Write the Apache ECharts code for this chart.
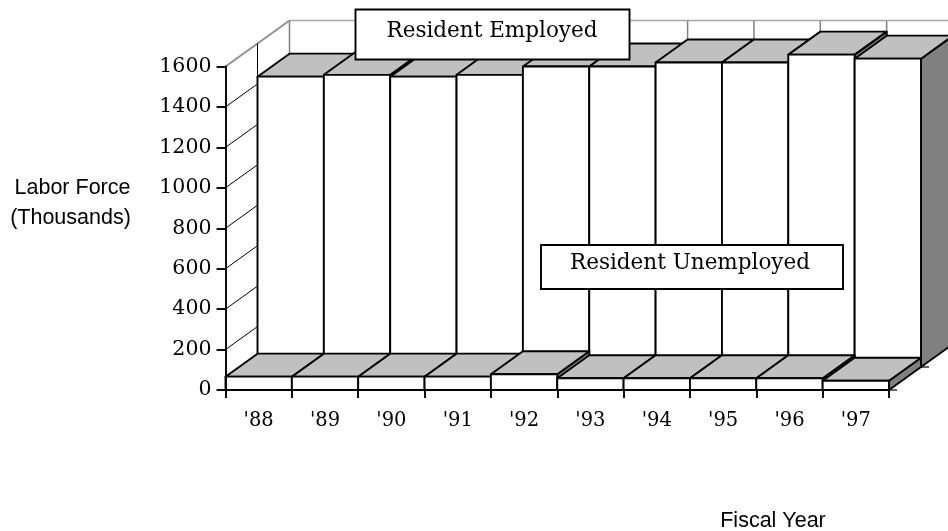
<!DOCTYPE html>
<html>
<head>
<meta charset="utf-8">
<style>html,body{margin:0;padding:0;background:#fff}#chart{width:948px;height:531px}</style>
<script src="https://cdn.jsdelivr.net/npm/echarts@6/dist/echarts.min.js"></script>
</head>
<body>
<div id="chart"></div>
<script>
const categories = ["'88", "'89", "'90", "'91", "'92", "'93", "'94", "'95", "'96", "'97"]
const employed = [1436, 1445, 1436, 1445, 1486, 1486, 1506, 1506, 1545, 1525]
const unemployed = [66, 66, 66, 66, 78, 58, 58, 58, 58, 46]
const yTicks = [200, 400, 600, 800, 1000, 1200, 1400, 1600]
const yMax = 1600

//depth of one series row on screen
const depthX = 32
const depthY = -23

const serif = "DejaVu Serif"
const sans = "Liberation Sans"

//3d bar, row 0 is the front row, row 1 the one behind
function barItem(row) {
  return (params, api) => {
    const idx = api.value(0)
    const band = api.size([1, 0])[0]
    const top = api.coord([idx, api.value(1)])
    const base = api.coord([idx, 0])
    const ox = depthX * row
    const oy = depthY * row
    const l = top[0] - band / 2 + ox
    const r = top[0] + band / 2 + ox
    const t = top[1] + oy
    const b = base[1] + oy
    const edge = { stroke: "#000", lineWidth: 1.9, lineJoin: "round" }
    const poly = (points, fill) => ({
      type: "polygon",
      shape: { points },
      style: { fill, ...edge }
    })
    return {
      type: "group",
      children: [
        poly([[r, t], [r + depthX, t + depthY], [r + depthX, b + depthY], [r, b]], "#808080"),
        poly([[l, t], [l + depthX, t + depthY], [r + depthX, t + depthY], [r, t]], "#c0c0c0"),
        poly([[l, t], [r, t], [r, b], [l, b]], "#fff")
      ]
    }
  }
}

//left wall, one slanted line per y tick
function sideWallItem(params, api) {
  const val = api.value(1)
  const band = api.size([1, 0])[0]
  const p = api.coord([0, val])
  const x = p[0] - band / 2
  const isTop = val === yMax
  const line = (x1, y1, x2, y2, stroke, lineWidth) => ({
    type: "line",
    shape: { x1, y1, x2, y2 },
    style: { stroke, lineWidth }
  })
  if (isTop) {
    const base = api.coord([0, 0])
    return {
      type: "group",
      children: [
        line(x, p[1], x + depthX * 2, p[1] + depthY * 2, "#8c8c8c", 1.7),
        line(x + depthX, p[1] + depthY, x + depthX, base[1] + depthY, "#000", 1)
      ]
    }
  }
  return line(x, p[1], x + depthX, p[1] + depthY, "#000", 1)
}

//back wall, vertical lines between the categories and the top edge
function backWallItem(params, api) {
  const idx = api.value(0)
  const band = api.size([1, 0])[0]
  const top = api.coord([idx, yMax])
  const base = api.coord([idx, 0])
  const x = top[0] - band / 2 + depthX * 2
  const y = top[1] + depthY * 2
  return {
    type: "group",
    children: [
      {
        type: "line",
        shape: { x1: x, y1: y, x2: x, y2: base[1] + depthY * 2 },
        style: { stroke: "#808080", lineWidth: 1.5 }
      },
      {
        type: "line",
        shape: { x1: x, y1: y, x2: x + band, y2: y },
        style: { stroke: "#a6a6a6", lineWidth: 1.7 }
      }
    ]
  }
}

//small ticks on the right hand floor corners
function cornerItem(params, api) {
  const row = api.value(1)
  const band = api.size([1, 0])[0]
  const p = api.coord([categories.length - 1, 0])
  const x = p[0] + band / 2 + depthX * row
  const y = p[1] + depthY * row
  return {
    type: "line",
    shape: { x1: x, y1: y, x2: x + 8, y2: y },
    style: { stroke: "#000", lineWidth: 1.2 }
  }
}

const option = {
  animation: false,
  backgroundColor: "#fff",
  grid: {
    left: 225.5,
    right: 59,
    top: 66.5,
    bottom: 141
  },
  xAxis: {
    type: "category",
    data: categories,
    axisLine: { lineStyle: { color: "#000", width: 1.9 } },
    axisTick: { show: true, length: 8, lineStyle: { color: "#000", width: 1.9 } },
    axisLabel: {
      interval: 0,
      margin: 21,
      fontFamily: serif,
      fontSize: 19.5,
      color: "#000"
    },
    z: 5
  },
  yAxis: {
    type: "value",
    min: 0,
    max: yMax,
    interval: 200,
    splitLine: { show: false },
    axisLine: { show: true, lineStyle: { color: "#000", width: 1.9 } },
    axisTick: { show: true, length: 9, lineStyle: { color: "#000", width: 1.9 } },
    axisLabel: {
      margin: 14,
      fontFamily: serif,
      fontSize: 20.5,
      color: "#000",
      formatter: v => String(v)
    },
    z: 5
  },
  series: [
    {
      name: "back wall",
      type: "custom",
      renderItem: backWallItem,
      clip: false,
      silent: true,
      encode: { x: 0 },
      data: categories.map((c, i) => [i]),
      z: 1
    },
    {
      name: "side wall",
      type: "custom",
      renderItem: sideWallItem,
      clip: false,
      silent: true,
      encode: { y: 1 },
      data: yTicks.map(v => [0, v]),
      z: 1
    },
    {
      name: "corner ticks",
      type: "custom",
      renderItem: cornerItem,
      clip: false,
      silent: true,
      data: [[0, 0], [0, 1]],
      z: 1
    },
    {
      name: "Resident Employed",
      type: "custom",
      renderItem: barItem(1),
      clip: false,
      encode: { x: 0, y: 1 },
      data: employed.map((v, i) => [i, v]),
      z: 2
    },
    {
      name: "Resident Unemployed",
      type: "custom",
      renderItem: barItem(0),
      clip: false,
      encode: { x: 0, y: 1 },
      data: unemployed.map((v, i) => [i, v]),
      z: 3
    }
  ],
  graphic: {
    elements: [
      {
        type: "rect",
        z: 100,
        shape: { x: 355.5, y: 9.5, width: 274, height: 50 },
        style: { fill: "#fff", stroke: "#000", lineWidth: 1.9 }
      },
      {
        type: "text",
        z: 101,
        x: 492,
        y: 31,
        style: {
          text: "Resident Employed",
          fontFamily: serif,
          fontSize: 21.5,
          fill: "#000",
          textAlign: "center",
          textVerticalAlign: "middle"
        }
      },
      {
        type: "rect",
        z: 100,
        shape: { x: 541, y: 245, width: 302, height: 44 },
        style: { fill: "#fff", stroke: "#000", lineWidth: 1.9 }
      },
      {
        type: "text",
        z: 101,
        x: 690,
        y: 263,
        style: {
          text: "Resident Unemployed",
          fontFamily: serif,
          fontSize: 21.5,
          fill: "#000",
          textAlign: "center",
          textVerticalAlign: "middle"
        }
      },
      {
        type: "text",
        z: 101,
        x: 72.5,
        y: 188,
        style: {
          text: "Labor Force",
          fontFamily: sans,
          fontSize: 21.5,
          fill: "#000",
          textAlign: "center",
          textVerticalAlign: "middle"
        }
      },
      {
        type: "text",
        z: 101,
        x: 70.5,
        y: 218,
        style: {
          text: "(Thousands)",
          fontFamily: sans,
          fontSize: 21.5,
          fill: "#000",
          textAlign: "center",
          textVerticalAlign: "middle"
        }
      },
      {
        type: "text",
        z: 101,
        x: 773,
        y: 521,
        style: {
          text: "Fiscal Year",
          fontFamily: sans,
          fontSize: 21.5,
          fill: "#000",
          textAlign: "center",
          textVerticalAlign: "middle"
        }
      }
    ]
  }
}

const chartEl = echarts.init(document.getElementById("chart"))
chartEl.setOption(option)
</script>
</body>
</html>
